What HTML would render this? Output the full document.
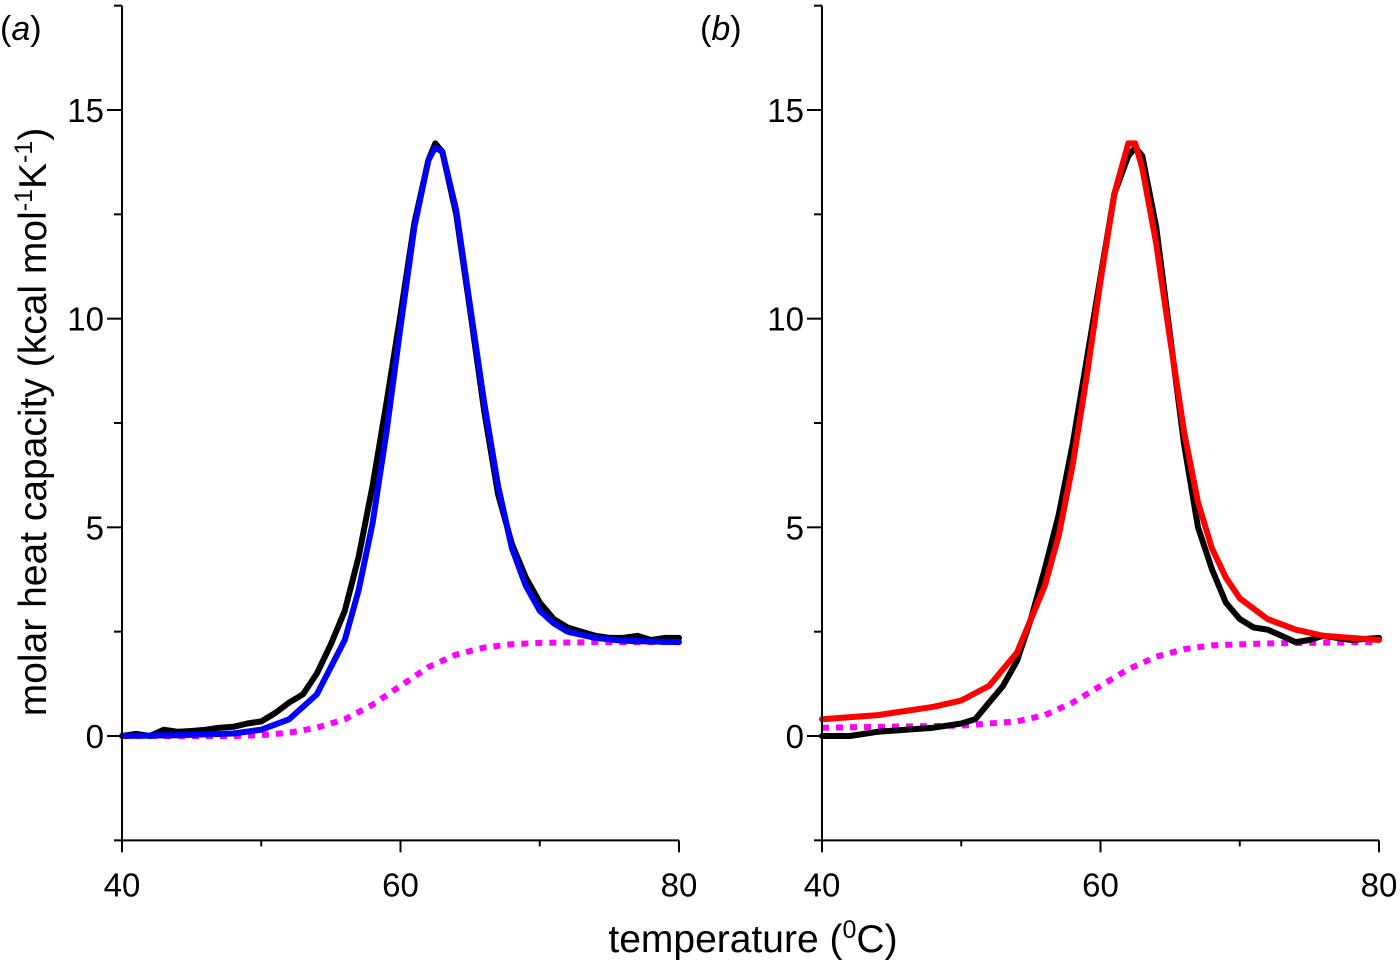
<!DOCTYPE html>
<html><head><meta charset="utf-8"><style>
html,body{margin:0;padding:0;background:#fff}
svg text{font-family:"Liberation Sans",sans-serif;fill:#000}
</style></head><body>
<svg id="c" width="1400" height="964" viewBox="0 0 1400 964" xmlns="http://www.w3.org/2000/svg"></svg>
<script>
const xTicks=[40,60,80];
const xMinor=[50,70];
const yTicks=[0,5,10,15];
const yMinor=[-2.5,2.5,7.5,12.5,17.5];
const aDataT=[40,41,42,43,44,45,46,47,48,49,50,51,52,53,54,55,56,57,58,59,60,61,62,62.5,63,64,65,66,67,68,69,70,71,72,73,74,75,76,77,78,79,80];
const aDataY=[0,0.05,0,0.15,0.1,0.12,0.15,0.2,0.22,0.3,0.35,0.55,0.8,1.0,1.5,2.2,3.0,4.3,6.0,8.0,10.1,12.3,13.8,14.2,14.0,12.5,10.2,7.8,5.8,4.6,3.8,3.2,2.8,2.6,2.5,2.4,2.35,2.35,2.4,2.3,2.35,2.35];
const aFitT=[40,44,48,50,52,54,56,57,58,59,60,61,62,62.5,63,64,65,66,67,68,69,70,71,72,74,76,80];
const aFitY=[0,0.02,0.06,0.15,0.4,1.0,2.3,3.5,5.1,7.3,9.8,12.2,13.8,14.1,14.0,12.6,10.3,8.0,6.0,4.5,3.6,3.0,2.7,2.5,2.35,2.28,2.25];
const aBaseT=[40,48,50,52,54,56,58,60,62,64,66,68,70,74,80];
const aBaseY=[0,0,0.02,0.08,0.2,0.4,0.75,1.2,1.65,1.95,2.12,2.2,2.23,2.25,2.25];
const bDataT=[40,42,44,46,48,50,51,52,53,54,55,56,57,58,59,60,61,62,62.5,63,64,65,66,67,68,69,70,71,72,73,74,75,76,77,78,80];
const bDataY=[0,0,0.1,0.15,0.2,0.3,0.4,0.8,1.2,1.8,2.8,4.0,5.3,7.0,9.0,11,13,13.9,14.1,13.9,12.2,9.6,7.0,5.0,4.0,3.2,2.8,2.6,2.55,2.4,2.25,2.3,2.4,2.35,2.3,2.35];
const bFitT=[40,44,48,50,52,54,56,57,58,59,60,61,62,62.5,63,64,65,66,67,68,69,70,72,74,76,80];
const bFitY=[0.4,0.5,0.7,0.85,1.2,2.0,3.6,4.8,6.5,8.6,10.9,13.0,14.2,14.2,13.6,11.8,9.5,7.3,5.6,4.5,3.8,3.3,2.8,2.55,2.4,2.3];
const bBaseT=[40,50,54,56,58,60,62,64,66,68,72,80];
const bBaseY=[0.2,0.25,0.35,0.5,0.8,1.2,1.6,1.9,2.08,2.17,2.22,2.25];

const NS="http://www.w3.org/2000/svg";
const svg=document.getElementById('c');
function mk(tag,attrs,parent){const e=document.createElementNS(NS,tag);for(const k in attrs)e.setAttribute(k,attrs[k]);(parent||svg).appendChild(e);return e;}
const Y0=736,YS=(736-110)/15;
function sy(v){return Y0-v*YS;}
function panel(x0,x1,label,series,name){
  const g=mk('g',{});
  
  
  const sx=t=>x0+(t-40)*(x1-x0)/40;
  const yb=sy(-2.5),yt=sy(17.5);
  series.forEach(s=>{
    const p=mk('polyline',{points:s.t.map((t,i)=>sx(t).toFixed(1)+','+sy(s.y[i]).toFixed(1)).join(' '),fill:'none',stroke:s.c,'stroke-width':s.w,'stroke-linejoin':'round','stroke-linecap':s.d?'butt':'round'},g);
    if(s.d)p.setAttribute('stroke-dasharray',s.d);
    
    
  });
  const ya=mk('line',{x1:x0,x2:x0,y1:yt,y2:yb,stroke:'#000','stroke-width':2},g);
  
  
  const xa=mk('line',{x1:x0,x2:x1,y1:yb,y2:yb,stroke:'#000','stroke-width':2},g);
  
  
  yTicks.forEach(v=>{mk('line',{x1:x0-15,x2:x0,y1:sy(v),y2:sy(v),stroke:'#000','stroke-width':2},g);
    const t=mk('text',{x:x0-18,y:sy(v)+12,'text-anchor':'end','font-size':33},g);t.textContent=v;
    
    });
  yMinor.forEach(v=>mk('line',{x1:x0-8,x2:x0,y1:sy(v),y2:sy(v),stroke:'#000','stroke-width':2},g));
  xTicks.forEach(v=>{mk('line',{x1:sx(v),x2:sx(v),y1:yb,y2:yb+12,stroke:'#000','stroke-width':2},g);
    const t=mk('text',{x:sx(v),y:yb+56,'text-anchor':'middle','font-size':33},g);t.textContent=v;
    
    });
  xMinor.forEach(v=>mk('line',{x1:sx(v),x2:sx(v),y1:yb,y2:yb+6,stroke:'#000','stroke-width':2},g));
  const lt=mk('text',{x:x0-122,y:40,'font-size':34},g);
  lt.innerHTML='(<tspan font-style="italic">'+label+'</tspan>)';
  
  
}
panel(122,679,'a',[
 {t:aBaseT,y:aBaseY,c:'#ff00ff',w:6,d:'7,7',n:'baseline-a'},
 {t:aDataT,y:aDataY,c:'#000',w:6,n:'data-a'},
 {t:aFitT,y:aFitY,c:'#0000ff',w:6,n:'fit-a'}],'panel-a');
panel(822,1379,'b',[
 {t:bBaseT,y:bBaseY,c:'#ff00ff',w:6,d:'7,7',n:'baseline-b'},
 {t:bDataT,y:bDataY,c:'#000',w:6,n:'data-b'},
 {t:bFitT,y:bFitY,c:'#ff0000',w:6,n:'fit-b'}],'panel-b');
const yl=mk('text',{x:0,y:0,'font-size':39,'text-anchor':'middle',transform:'translate(46,422) rotate(-90)'});
yl.innerHTML='molar heat capacity (kcal mol<tspan dy="-14" font-size="25">-1</tspan><tspan dy="14">K</tspan><tspan dy="-14" font-size="25">-1</tspan><tspan dy="14">)</tspan>';


const xl=mk('text',{x:753,y:952,'font-size':39,'text-anchor':'middle'});
xl.innerHTML='temperature (<tspan dy="-14" font-size="25">0</tspan><tspan dy="14">C)</tspan>';


</script>
</body></html>
